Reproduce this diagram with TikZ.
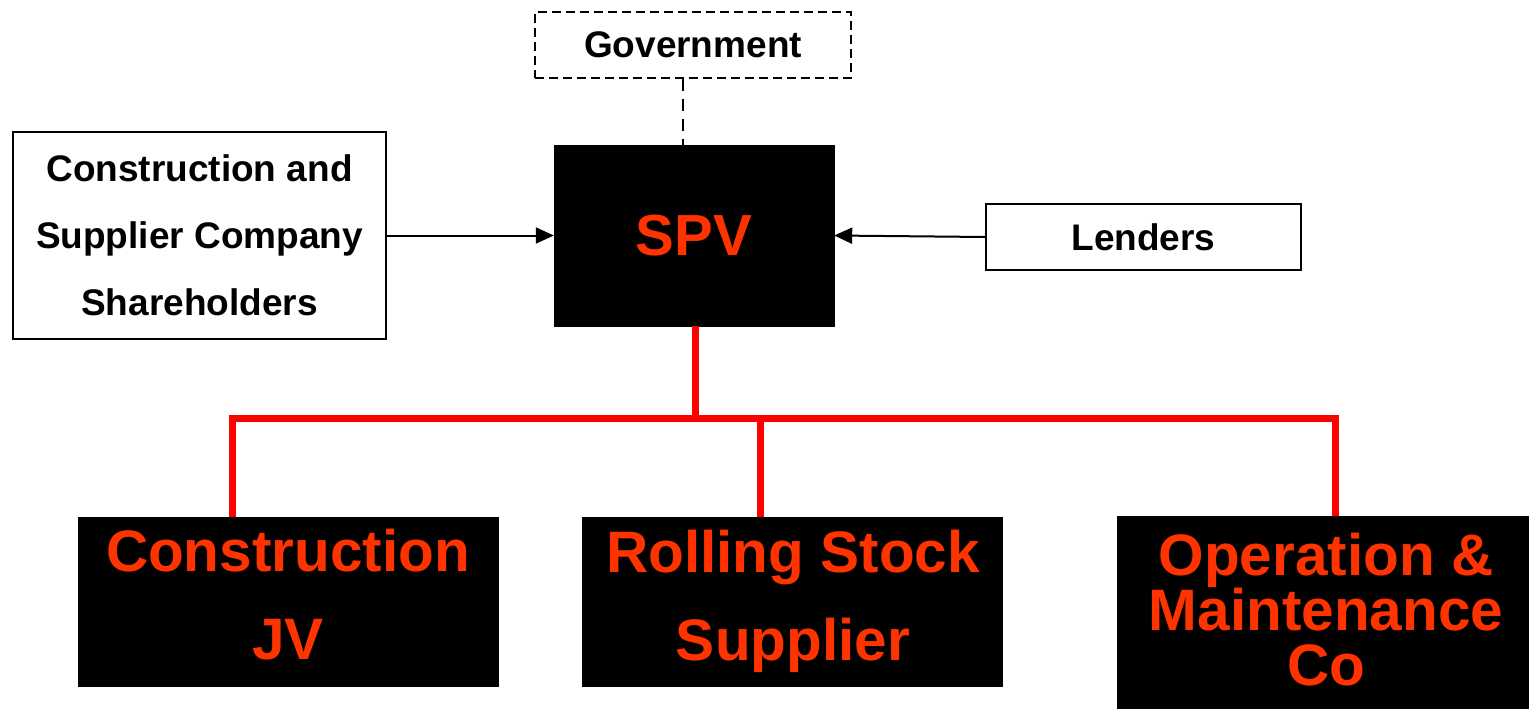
\documentclass[tikz,border=0pt]{standalone}
\usepackage{fontspec}
\setmainfont{Liberation Sans}
\usetikzlibrary{arrows.meta}
\definecolor{spvtext}{HTML}{FF3300}
\definecolor{busred}{HTML}{FF0000}
\tikzset{
  whitebox/.style={draw=black, line width=2pt, fill=white, inner sep=0pt, align=center,
    font=\fontsize{37}{67}\selectfont\bfseries},
  dashbox/.style={whitebox, dash pattern=on 9pt off 5pt},
  blackbox/.style={draw=black, fill=black, inner sep=0pt, align=center, text=spvtext},
  bigtext/.style={inner sep=0pt, align=center, text=spvtext},
  arr/.style={line width=2pt, -{Triangle[length=18pt,width=16pt]}},
  redline/.style={draw=busred, line width=7pt},
}
\begin{document}
\begin{tikzpicture}[x=1pt,y=-1pt]
\useasboundingbox (0,0) rectangle (1529,709);
\node[dashbox, minimum width=316pt, minimum height=66pt] (gov) at (693,45) {Government};
\node[whitebox, minimum width=373pt, minimum height=207pt] (sh) at (199.5,235.5)
  {Construction and\\Supplier Company\\Shareholders};
\node[blackbox, minimum width=280pt, minimum height=181pt,
  font=\fontsize{58}{60}\selectfont\bfseries] (spv) at (694,235.5) {SPV};
\node[whitebox, minimum width=315pt, minimum height=66pt] (len) at (1143.5,237) {Lenders};

\node[blackbox, minimum width=420pt, minimum height=169pt] (cjv) at (288,601.5) {};
\node[blackbox, minimum width=420pt, minimum height=169pt] (rss) at (792,601.5) {};
\node[blackbox, minimum width=412pt, minimum height=193pt] (om) at (1323,612.5) {};
\node[bigtext, font=\fontsize{58.5}{88}\selectfont\bfseries] (cjvtext) at (288,595) {Construction\\JV};
\node[bigtext, font=\fontsize{58.5}{88}\selectfont\bfseries] (rsstext) at (793,601.5) {Rolling Stock\\Supplier};
\node[bigtext, font=\fontsize{58.5}{55}\selectfont\bfseries] (omtext) at (1326,609.5) {Operation \&\\Maintenance\\Co};

\draw[line width=2.5pt, dash pattern=on 12pt off 8pt] ([xshift=-10pt]gov.south) -- ([xshift=-11pt]spv.north);
\draw[arr] (sh.east) -- (spv.west);
\draw[arr] (len.west) -- (spv.east);

\coordinate (bus) at (695,418);
\draw[redline] ([xshift=1pt]spv.south) -- (bus);
\draw[redline] ([xshift=-56pt]cjv.north) |- (bus) -| ([xshift=12pt]om.north);
\draw[redline] ([xshift=-32pt]rss.north) -- ([xshift=-32pt]rss.north |- bus);
\end{tikzpicture}
\end{document}
